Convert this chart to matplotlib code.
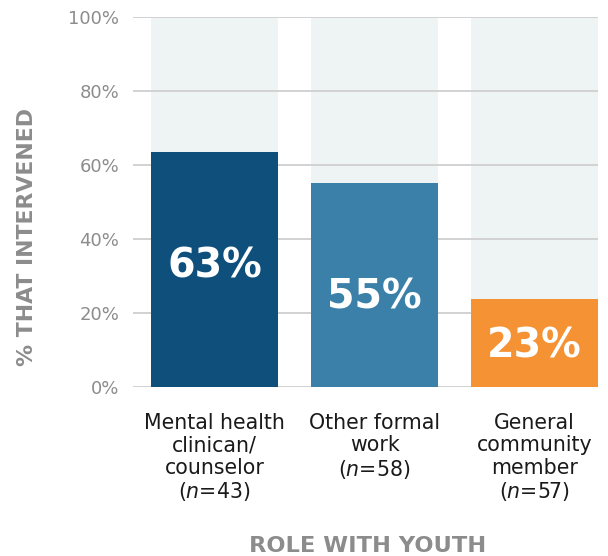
import matplotlib.pyplot as plt

roles = [
    "Mental health\nclinican/\ncounselor\n($\\mathit{n}$=43)",
    "Other formal\nwork\n($\\mathit{n}$=58)",
    "General\ncommunity\nmember\n($\\mathit{n}$=57)",
]
pct_intervened = [63.5, 55.1, 23.7]
value_labels = ["63%", "55%", "23%"]
y_ticks = [0, 20, 40, 60, 80, 100]
y_tick_labels = ["0%", "20%", "40%", "60%", "80%", "100%"]

BAR_COLORS = ["#0F4F7C", "#3A80A8", "#F59233"]
BG_COLOR = "#EEF4F4"
GRAY = "#8C8C8C"


def main() -> None:
    fig = plt.figure(figsize=(6.08, 5.56), dpi=100)
    ax = fig.add_axes([133 / 608, 1 - 387 / 556, 465 / 608, 370.5 / 556])

    x = list(range(len(roles)))
    width = 0.79

    # full-height background bars, then grid, then the real bars
    ax.bar(x, [100] * len(x), width=width, color=BG_COLOR, zorder=1)
    for t in y_ticks:
        ax.axhline(t, color="#CFCFCF", linewidth=1.3, zorder=2)
    ax.bar(x, pct_intervened, width=width, color=BAR_COLORS, zorder=3)

    label_y = [32.4, 24.2, 11.0]
    for xi, yi, txt in zip(x, label_y, value_labels):
        ax.text(xi, yi, txt, ha="center", va="center", color="white",
                fontsize=28.5, fontweight="bold", zorder=4)

    ax.set_xlim(-0.51, 2.397)
    ax.set_ylim(0, 100)
    ax.set_yticks(y_ticks)
    ax.set_yticklabels(y_tick_labels, fontsize=13, color=GRAY)
    ax.set_xticks(x)
    ax.set_xticklabels(roles, fontsize=14.8, color="#1A1A1A",
                       linespacing=1.13, multialignment="center")
    ax.tick_params(axis="y", length=0, pad=10)
    ax.tick_params(axis="x", length=0, pad=19)
    for s in ax.spines.values():
        s.set_visible(False)

    fig.text(27 / 608, 1 - 237 / 556, "% THAT INTERVENED", rotation=90,
             ha="center", va="center", fontsize=15.8, fontweight="bold",
             color=GRAY)
    fig.text(368 / 608, 1 - 546 / 556, "ROLE WITH YOUTH", ha="center",
             va="center", fontsize=16.2, fontweight="bold", color=GRAY)

    fig.savefig("out.png", dpi=100)
    plt.close(fig)


if __name__ == "__main__":
    main()
